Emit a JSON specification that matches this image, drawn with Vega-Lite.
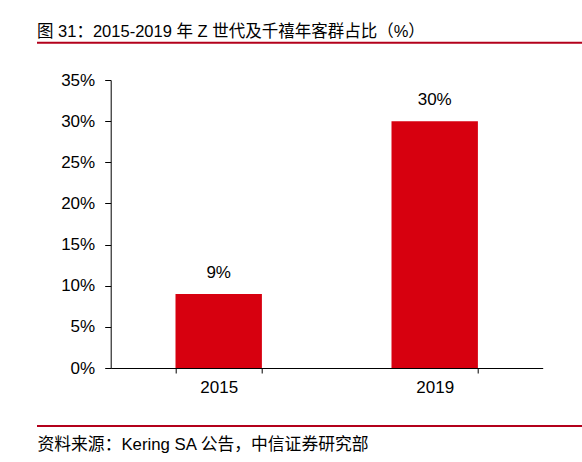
{
  "$schema": "https://vega.github.io/schema/vega-lite/v6.json",
  "width": 432,
  "height": 288,
  "autosize": {"type": "none"},
  "padding": {"left": 110.7, "top": 80, "right": 39.3, "bottom": 94},
  "background": "white",
  "title": {
    "text": "图 31：2015-2019 年 Z 世代及千禧年客群占比（%）",
    "anchor": "start",
    "frame": "group",
    "dx": -73.7,
    "offset": 0,
    "dy": 12,
    "baseline": "alphabetic",
    "font": "Liberation Sans, Noto Sans CJK SC",
    "fontSize": 16.5,
    "fontWeight": "normal",
    "color": "#000000"
  },
  "data": {
    "values": [
      {"year": "2015", "share": 0.09},
      {"year": "2019", "share": 0.30}
    ]
  },
  "layer": [
    {
      "mark": {"type": "bar", "color": "#d7000f"},
      "encoding": {
        "x": {
          "field": "year",
          "type": "nominal",
          "scale": {"paddingInner": 0.6, "paddingOuter": 0.3},
          "axis": {
            "title": "资料来源：Kering SA 公告，中信证券研究部",
            "titleX": -73.7,
            "titleY": 81,
            "titleAlign": "left",
            "titleAnchor": null,
            "titleBaseline": "alphabetic",
            "titleFont": "Liberation Sans, Noto Sans CJK SC",
            "titleFontSize": 16.8,
            "titleFontWeight": "normal",
            "titleColor": "#000000",
            "labelAngle": 0,
            "labelFontSize": 17,
            "labelPadding": 6,
            "tickBand": "extent",
            "tickSize": 5
          }
        },
        "y": {
          "field": "share",
          "type": "quantitative",
          "scale": {"domain": [0, 0.35]},
          "axis": {
            "title": null,
            "values": [0, 0.05, 0.1, 0.15, 0.2, 0.25, 0.3, 0.35],
            "format": ".0%",
            "grid": false,
            "labelFontSize": 17,
            "labelPadding": 10,
            "tickSize": 6
          }
        }
      }
    },
    {
      "mark": {
        "type": "text",
        "baseline": "alphabetic",
        "dy": -16,
        "fontSize": 17,
        "font": "Liberation Sans",
        "color": "#000000"
      },
      "encoding": {
        "x": {"field": "year", "type": "nominal"},
        "y": {"field": "share", "type": "quantitative"},
        "text": {"field": "share", "type": "quantitative", "format": ".0%"}
      }
    },
    {
      "data": {"values": [{}]},
      "mark": {"type": "rule", "color": "#b3001b", "strokeWidth": 2},
      "encoding": {
        "x": {"value": -73.7},
        "x2": {"value": 471.3},
        "y": {"value": -37.3}
      }
    },
    {
      "data": {"values": [{}]},
      "mark": {"type": "rule", "color": "#b3001b", "strokeWidth": 2},
      "encoding": {
        "x": {"value": -73.7},
        "x2": {"value": 471.3},
        "y": {"value": 346}
      }
    }
  ],
  "config": {
    "view": {"stroke": null},
    "font": "Liberation Sans",
    "axis": {
      "domainColor": "#000000",
      "tickColor": "#000000",
      "labelColor": "#000000",
      "labelFont": "Liberation Sans"
    }
  }
}
